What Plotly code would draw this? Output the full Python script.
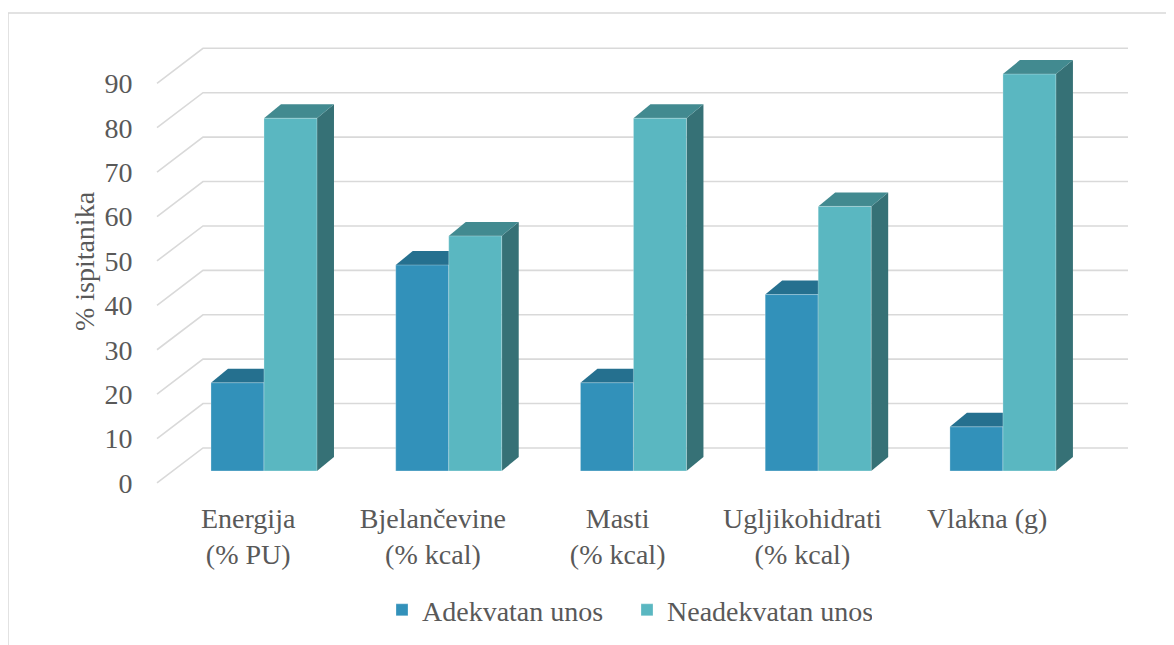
import plotly.graph_objects as go

# ---------------- data ----------------
categories = ["Energija<br>(% PU)", "Bjelančevine<br>(% kcal)", "Masti<br>(% kcal)",
              "Ugljikohidrati<br>(% kcal)", "Vlakna (g)"]
series_names = ["Adekvatan unos", "Neadekvatan unos"]
adekvatan = [20, 46.7, 20, 40, 10]
neadekvatan = [80, 53.3, 80, 60, 90]
y_ticks = [0, 10, 20, 30, 40, 50, 60, 70, 80, 90]
y_title = "% ispitanika"

# ---------------- style / geometry ----------------
W, H = 1174, 645
PAGE = 8  # browser body margin
M_L, M_R, M_T, M_B = 150 - PAGE, 34 + PAGE, 30 - PAGE, 152 + PAGE
X_RANGE = [-0.617, 4.742]
Y_RANGE = [-5, 100]
PW = W - M_L - M_R
PH = H - M_T - M_B
PX_X = PW / (X_RANGE[1] - X_RANGE[0])   # px per x unit
PX_Y = PH / (Y_RANGE[1] - Y_RANGE[0])   # px per y unit


def dxu(px):
    return px / PX_X


def dyu(px):
    return px / PX_Y


FONT = "Liberation Serif, Tinos, DejaVu Serif, Noto Serif, serif"
TXT = "#595959"
GRID = "#D9D9D9"
FRONT = ["#3291BA", "#5AB7C1"]
TOP = ["#25708F", "#428A90"]
SIDE = ["#1F5F79", "#367176"]

BAR_W = dxu(53)
BAR_DX, BAR_DY = dxu(17), dyu(14)          # bar depth
FLOOR_DX, FLOOR_DY = dxu(-15.8), dyu(-12)  # front edge of floor vs bar plane
WALL_DX, WALL_DY = dxu(30.2), dyu(23)      # back wall vs bar plane
WALL_S = 1.007
WALL_X0 = X_RANGE[0] + dxu(157 - 150)
WALL_X1 = X_RANGE[0] + dxu(1128 - 150)

x_idx = list(range(len(categories)))

fig = go.Figure()
series = [adekvatan, neadekvatan]
offsets = [-BAR_W, 0]
for k in range(2):
    fig.add_trace(go.Bar(
        x=x_idx, y=series[k], name=series_names[k], width=BAR_W, offset=offsets[k],
        marker=dict(color=FRONT[k], line=dict(color="rgba(255,255,255,0.35)", width=0.8)),
        hoverinfo="y"))

shapes = []
# back-wall gridlines with left-floor diagonals
for v in y_ticks:
    yf = v * WALL_S + FLOOR_DY
    yb = v * WALL_S + WALL_DY
    xb = WALL_X0 + (WALL_DX - FLOOR_DX)
    shapes.append(dict(type="path", xref="x", yref="y", layer="below",
                       path=f"M {WALL_X0},{yf} L {xb},{yb} L {WALL_X1},{yb}",
                       line=dict(color=GRID, width=1.6)))

# 3D faces (top + side) for each bar
for k in range(2):
    for i, v in zip(x_idx, series[k]):
        x0 = i + offsets[k]
        x1 = x0 + BAR_W
        shapes.append(dict(type="path", xref="x", yref="y", layer="below",
                           path=f"M {x1},0 L {x1},{v} L {x1+BAR_DX},{v+BAR_DY} L {x1+BAR_DX},{BAR_DY} Z",
                           fillcolor=SIDE[k], line=dict(width=0)))
        shapes.append(dict(type="path", xref="x", yref="y", layer="below",
                           path=f"M {x0},{v} L {x1},{v} L {x1+BAR_DX},{v+BAR_DY} L {x0+BAR_DX},{v+BAR_DY} Z",
                           fillcolor=TOP[k], line=dict(width=0)))

# chart-area frame (left and top edges)
fx = -(150 - 8) / PW
fy = 1 + (30 - 13) / PH
shapes.append(dict(type="line", xref="paper", yref="paper", x0=fx, x1=fx, y0=fy, y1=-0.5,
                   line=dict(color=GRID, width=1.5)))
shapes.append(dict(type="line", xref="paper", yref="paper", x0=fx, x1=1.1, y0=fy, y1=fy,
                   line=dict(color=GRID, width=1.5)))

fig.update_layout(
    width=W, height=H,
    margin=dict(l=M_L, r=M_R, t=M_T, b=M_B),
    paper_bgcolor="white", plot_bgcolor="white",
    font=dict(family=FONT, color=TXT, size=28),
    shapes=shapes,
    showlegend=True,
    legend=dict(orientation="h", x=(382 - 150) / PW, xanchor="left", y=-0.253, yanchor="middle",
                entrywidth=200, entrywidthmode="pixels",
                font=dict(size=28, color=TXT, family=FONT), traceorder="normal"),
    xaxis=dict(range=X_RANGE, showgrid=False, zeroline=False, showline=False,
               tickvals=[i + FLOOR_DX for i in x_idx], ticktext=categories,
               ticks="outside", ticklen=0, tickcolor="rgba(0,0,0,0)",
               tickfont=dict(size=28, color=TXT, family=FONT)),
    yaxis=dict(range=Y_RANGE, showgrid=False, zeroline=False, showline=False,
               tickvals=[v * WALL_S + FLOOR_DY for v in y_ticks], ticktext=[str(v) for v in y_ticks],
               ticks="outside", ticklen=11, tickcolor="rgba(0,0,0,0)",
               tickfont=dict(size=28, color=TXT, family=FONT),
               title=dict(text=y_title, standoff=1, font=dict(size=28, color=TXT, family=FONT))),
)

fig.write_html("out.html")
